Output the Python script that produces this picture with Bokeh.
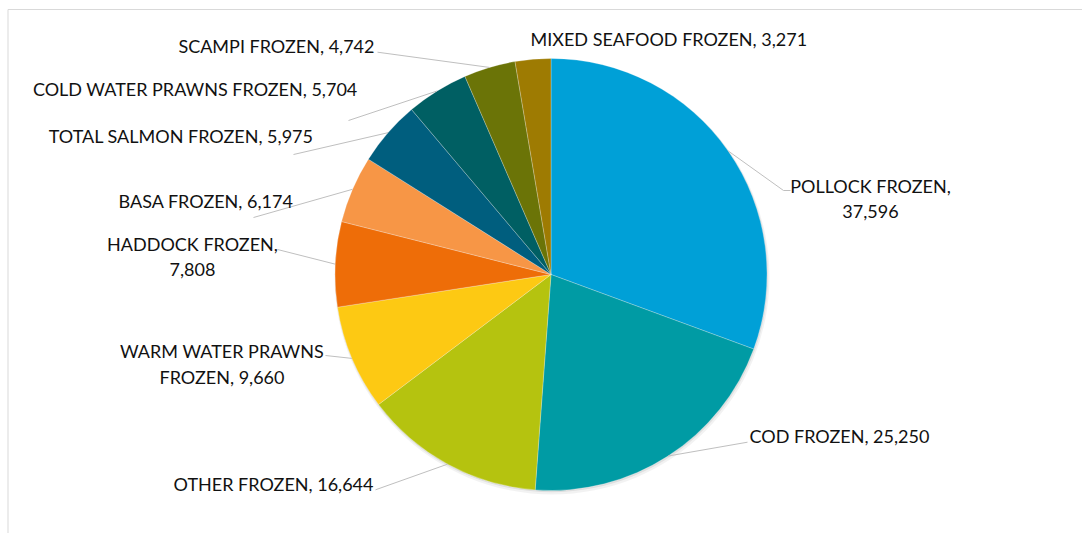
import math
from bokeh.plotting import figure
from bokeh.models import Range1d, ColumnDataSource
from bokeh.core.properties import value
from bokeh.embed import file_html
from bokeh.resources import INLINE

# ---------------- data ----------------
categories = ["POLLOCK FROZEN", "COD FROZEN", "OTHER FROZEN", "WARM WATER PRAWNS FROZEN",
              "HADDOCK FROZEN", "BASA FROZEN", "TOTAL SALMON FROZEN",
              "COLD WATER PRAWNS FROZEN", "SCAMPI FROZEN", "MIXED SEAFOOD FROZEN"]
values = [37596, 25250, 16644, 9660, 7808, 6174, 5975, 5704, 4742, 3271]
colors = ["#00A0D7", "#009BA4", "#B5C30F", "#FDC913", "#EE6D08",
          "#F79646", "#005E7E", "#005F63", "#6B7407", "#9E7B02"]

# ---------------- layout (screen pixels in the page) ----------------
W, H = 1082, 533
OFF = 0
CX, CY, R = 550.5, 274.0, 216.0
FONT = "Lato"
FSIZE = "18px"
LINE_H = 25.5
# per label: (align, x, y of first line, words on first line or None, leader anchor, elbow)
label_layout = [
    ("center", 870, 185, 2, (790, 190), (783, 190)),
    ("left", 749, 435.7, None, (747, 441.7), None),
    ("right", 373, 483.3, None, (375, 489.3), None),
    ("center", 221.5, 350.7, 3, (325, 355), None),
    ("center", 192, 243.3, 2, (277, 249), None),
    ("right", 293, 200, None, (253, 217), None),
    ("right", 313, 135, None, (293, 154), None),
    ("right", 357, 88.3, None, (348, 120), None),
    ("right", 374, 45, None, (377, 51.7), None),
    ("left", 530, 38.3, None, None, None),
]


def dx(sx):
    return sx - OFF


def dy(sy):
    return H - (sy - OFF)


p = figure(width=W, height=H, x_range=Range1d(0, W), y_range=Range1d(0, H),
           x_axis_type=None, y_axis_type=None, output_backend="svg",
           toolbar_location=None, min_border=0, min_border_left=0,
           min_border_right=0, min_border_top=0, min_border_bottom=0)
p.grid.visible = False
p.outline_line_color = None
p.background_fill_color = "white"
p.border_fill_color = "white"

# chart-area border (top and left edges visible in the window)
p.quad(left=[dx(7.5)], right=[dx(W + 40)], top=[dy(9.0)], bottom=[dy(H + 40)],
       fill_color=None, line_color="#D9D9D9", line_width=1)

total = float(sum(values))
cum = [0.0]
for v in values:
    cum.append(cum[-1] + v)
starts = [c / total * 2 * math.pi for c in cum[:-1]]
ends = [c / total * 2 * math.pi for c in cum[1:]]

# soft shadow
p.circle(x=[dx(CX) + 1.0], y=[dy(CY) - 2.5], radius=R + 1.5,
         fill_color="black", fill_alpha=0.05, line_color=None)
p.circle(x=[dx(CX) + 0.5], y=[dy(CY) - 1.2], radius=R + 0.5,
         fill_color="black", fill_alpha=0.08, line_color=None)

src = ColumnDataSource(dict(
    x=[dx(CX)] * len(values), y=[dy(CY)] * len(values),
    start=[math.pi / 2 - e for e in ends], end=[math.pi / 2 - s for s in starts],
    color=colors, cat=categories, val=values))
p.wedge(x="x", y="y", radius=R, start_angle="start", end_angle="end",
        fill_color="color", line_color="white", line_width=0.5, line_alpha=0.5,
        source=src)

# leader lines and labels
lxs, lys = [], []
tx, ty, tt, ta = [], [], [], []
for i, (cat, v) in enumerate(zip(categories, values)):
    align, x0, y0, nfirst, anchor, elbow = label_layout[i]
    mid = (starts[i] + ends[i]) / 2
    ex = CX + R * math.sin(mid)
    ey = CY - R * math.cos(mid)
    if anchor is not None:
        xs = [dx(anchor[0])]
        ys = [dy(anchor[1])]
        if elbow is not None:
            xs.append(dx(elbow[0]))
            ys.append(dy(elbow[1]))
        xs.append(dx(ex))
        ys.append(dy(ey))
        lxs.append(xs)
        lys.append(ys)
    full = f"{cat}, {v:,}"
    if nfirst is None:
        lines = [full]
    else:
        words = full.split(" ")
        lines = [" ".join(words[:nfirst]), " ".join(words[nfirst:])]
    for k, ln in enumerate(lines):
        tx.append(dx(x0))
        ty.append(dy(y0 + k * LINE_H))
        tt.append(ln)
        ta.append(align)

p.multi_line(xs=lxs, ys=lys, line_color="#BFBFBF", line_width=1)
p.text(x=tx, y=ty, text=tt, text_align=ta, text_baseline="middle",
       text_font=value(FONT), text_font_size=FSIZE, text_color="#111111")

open("out.html", "w").write(file_html(p, INLINE))
